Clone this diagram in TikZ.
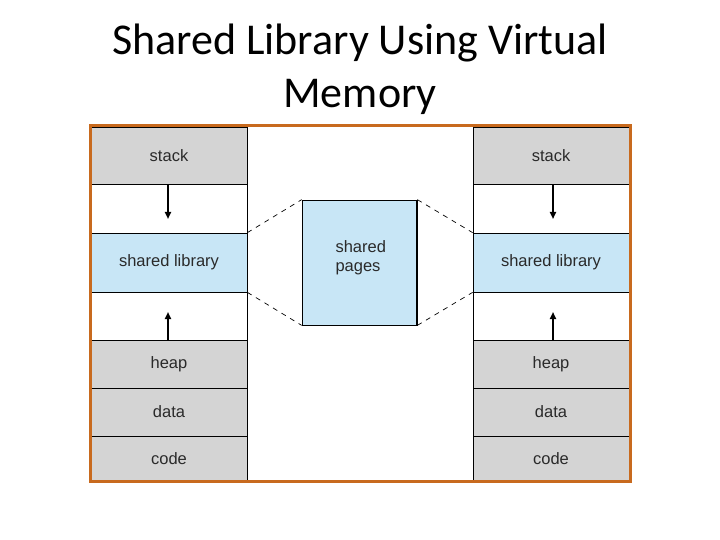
\documentclass[tikz,border=0pt]{standalone}
\usepackage{fontspec}
\setmainfont{Liberation Sans}
\newfontfamily\titlefont{Carlito}
\usetikzlibrary{arrows.meta}
\definecolor{segGray}{HTML}{D4D4D4}
\definecolor{segBlue}{HTML}{C8E6F6}
\definecolor{frameOrange}{HTML}{C86A1E}
\definecolor{txtGray}{HTML}{2A2A2A}
\tikzset{
  seg/.style={draw=black, line width=0.7pt, minimum width=156pt, inner sep=0pt, font=\fontsize{16.5}{18}\selectfont, text=txtGray},
  graySeg/.style={seg, fill=segGray},
  blueSeg/.style={seg, fill=segBlue},
  whiteSeg/.style={seg, fill=white},
  growArrow/.style={-{Triangle[length=7pt,width=6pt]}, line width=1.8pt},
  shareLine/.style={dash pattern=on 5pt off 5pt, line width=0.7pt},
}
\begin{document}
\begin{tikzpicture}[x=1pt,y=-1pt]
\useasboundingbox (0,0) rectangle (720,540);
\node[font=\titlefont\fontsize{44}{53}\selectfont, align=center, text=black] (title) at (360,69) {Shared Library Using Virtual\\Memory};
% outer frame background
\fill[white] (90,126) rectangle (630,481);
% left column
\node[graySeg, minimum height=57pt] (lstack) at (169,155.5) {stack};
\node[whiteSeg, minimum height=49pt] (lgap1) at (169,208.5) {};
\node[blueSeg, minimum height=59pt] (llib) at (169,262.5) {shared library};
\node[whiteSeg, minimum height=48pt] (lgap2) at (169,316) {};
\node[graySeg, minimum height=48pt] (lheap) at (169,364) {heap};
\node[graySeg, minimum height=48pt] (ldata) at (169,412) {data};
\node[graySeg, minimum height=45pt] (lcode) at (169,458.5) {code};
% right column
\node[graySeg, minimum height=57pt] (rstack) at (551,155.5) {stack};
\node[whiteSeg, minimum height=49pt] (rgap1) at (551,208.5) {};
\node[blueSeg, minimum height=59pt] (rlib) at (551,262.5) {shared library};
\node[whiteSeg, minimum height=48pt] (rgap2) at (551,316) {};
\node[graySeg, minimum height=48pt] (rheap) at (551,364) {heap};
\node[graySeg, minimum height=48pt] (rdata) at (551,412) {data};
\node[graySeg, minimum height=45pt] (rcode) at (551,458.5) {code};
% shared pages
\node[draw=black, line width=0.7pt, fill=segBlue, minimum width=115pt, minimum height=125pt, inner sep=0pt] (pages) at (359.5,262.5) {};
\draw[line width=2.2pt] (pages.north east) -- (pages.south east);
\node[font=\fontsize{16.5}{19}\selectfont, text=txtGray, align=left, anchor=north west] (pagestext) at (332,237) {shared\\pages};
% arrows
\coordinate (larrowD) at (168,219);
\coordinate (larrowU) at (168,312);
\coordinate (rarrowD) at (553,219);
\coordinate (rarrowU) at (553,312);
\draw[growArrow] (lstack.south -| larrowD) -- (larrowD);
\draw[growArrow] (lheap.north -| larrowU) -- (larrowU);
\draw[growArrow] (rstack.south -| rarrowD) -- (rarrowD);
\draw[growArrow] (rheap.north -| rarrowU) -- (rarrowU);
% dashed mapping lines
\draw[shareLine] (llib.north east) -- (pages.north west);
\draw[shareLine] (llib.south east) -- (pages.south west);
\draw[shareLine] (pages.north east) -- (rlib.north west);
\draw[shareLine] (pages.south east) -- (rlib.south west);
% outer frame
\draw[frameOrange, line width=3pt] (90,126) rectangle (630,481);
\draw[black, line width=0.7pt] (247,127.5) -- (247,479.5);
\draw[black, line width=0.7pt] (473,127.5) -- (473,479.5);
\end{tikzpicture}
\end{document}
